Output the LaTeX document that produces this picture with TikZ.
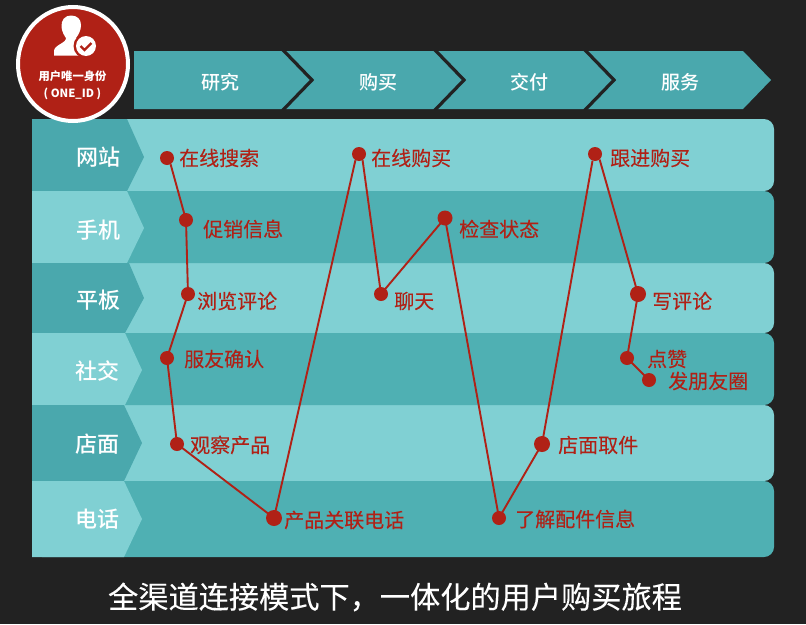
\documentclass[tikz,border=0pt]{standalone}
\usepackage{fontspec}
\usetikzlibrary{shapes.geometric}
\setmainfont{Noto Sans CJK SC}
\newfontfamily\medf[FakeBold=0.15]{Noto Sans CJK SC}
\newfontfamily\heavyf{Noto Sans CJK SC Medium}
\definecolor{bgd}{HTML}{222222}
\definecolor{dk}{HTML}{4AA8AD}
\definecolor{dkb}{HTML}{4FB0B3}
\definecolor{lt}{HTML}{80D0D3}
\definecolor{rd}{HTML}{B02116}
\tikzset{
 dot/.style={circle,fill=rd,inner sep=0pt,minimum size=14pt},
 lab/.style={text=rd,font=\medf\fontsize{20}{20}\selectfont,anchor=west,inner sep=0pt},
 tabt/.style={text=white,font=\heavyf\fontsize{22}{22}\selectfont,inner sep=0pt},
 hdr/.style={text=white,font=\heavyf\fontsize{19}{19}\selectfont,inner sep=0pt},
 badget/.style={text=white,font=\bfseries\fontsize{11.3}{11.3}\selectfont,inner sep=0pt},
 link/.style={draw=rd,line width=1.9pt},
 sep/.style={draw=bgd,line width=3.2pt,miter limit=10},
 rowshape/.style={rounded corners=10pt}
}
\begin{document}
\begin{tikzpicture}[x=1pt,y=-1pt]
\useasboundingbox (0,0) rectangle (806,624);
\fill[bgd] (0,0) rectangle (806,624);
% header band
\fill[dk] (134,51) -- (743,51) -- (771,80) -- (743,109) -- (134,109) -- cycle;
\begin{scope}
\clip (134,51) rectangle (771,109);
\draw[sep] (282.5,49.5) -- (312,80) -- (282.5,110.5);
\draw[sep] (434.5,49.5) -- (464,80) -- (434.5,110.5);
\draw[sep] (584.5,49.5) -- (614,80) -- (584.5,110.5);
\end{scope}
\node[hdr] (h1) at (220,82) {研究};
\node[hdr] (h2) at (378,82) {购买};
\node[hdr] (h3) at (529,82) {交付};
\node[hdr] (h4) at (680,82) {服务};
% rows
\fill[lt,rowshape] (32,119) rectangle (774,191);
\fill[lt,rowshape] (32,263) rectangle (774,333);
\fill[lt,rowshape] (32,405) rectangle (774,481);
\fill[dkb,rowshape] (32,191) rectangle (774,263);
\fill[dkb,rowshape] (32,333) rectangle (774,405);
\fill[dkb,rowshape] (32,481) rectangle (774,557);
% tabs
\fill[dk] (32,119) -- (127,119) -- (144,157) -- (127,191) -- (32,191) -- cycle;
\fill[lt] (32,191) -- (127,191) -- (144,228) -- (127,263) -- (32,263) -- cycle;
\fill[dk] (32,263) -- (129,263) -- (144,298) -- (125,333) -- (32,333) -- cycle;
\fill[lt] (32,333) -- (125,333) -- (142,370) -- (125,405) -- (32,405) -- cycle;
\fill[dk] (32,405) -- (124,405) -- (142,443) -- (124,481) -- (32,481) -- cycle;
\fill[lt] (32,481) -- (124,481) -- (142,519) -- (124,557) -- (32,557) -- cycle;
\node[tabt] (t1) at (98,157) {网站};
\node[tabt] (t2) at (98,230) {手机};
\node[tabt] (t3) at (98,300) {平板};
\node[tabt] (t4) at (97,371) {社交};
\node[tabt] (t5) at (97,444) {店面};
\node[tabt] (t6) at (97,519) {电话};
% dots
\node[dot] (a1) at (167,158) {};
\node[dot] (a2) at (186,220) {};
\node[dot] (a3) at (188,294) {};
\node[dot] (a4) at (167,358) {};
\node[dot] (a5) at (177,444) {};
\node[dot,minimum size=16pt] (a6) at (274,518) {};
\node[dot] (a7) at (359,154) {};
\node[dot] (a8) at (381,294) {};
\node[dot,minimum size=15pt] (a9) at (445,218) {};
\node[dot] (a10) at (499,518) {};
\node[dot,minimum size=16pt] (a11) at (542,444) {};
\node[dot] (a12) at (595,154) {};
\node[dot,minimum size=16pt] (a13) at (638,294) {};
\node[dot] (a14) at (627,358) {};
\node[dot] (a15) at (649,380) {};
\draw[link] (a1.-60) -- (a2.center);
\draw[link] (a2.center) -- (a3.center);
\draw[link] (a3.center) -- (a4.center);
\draw[link] (a4.center) -- (a5.center);
\draw[link] (a5.center) -- (a6.center);
\draw[link] (a6.center) -- (a7.-120);
\draw[link] (a7.-60) -- (a8.center);
\draw[link] (a8.center) -- (a9.center);
\draw[link] (a9.center) -- (a10.center);
\draw[link] (a10.center) -- (a11.center);
\draw[link] (a11.center) -- (a12.-110);
\draw[link] (a12.-50) -- (a13.center);
\draw[link] (a13.center) -- (a14.center);
\draw[link] (a14.center) -- (a15.center);
% labels
\node[lab] (l1) at (179,158) {在线搜索};
\node[lab] (l2) at (203,229) {促销信息};
\node[lab] (l3) at (197,301) {浏览评论};
\node[lab] (l4) at (184,359) {服友确认};
\node[lab] (l5) at (190,445) {观察产品};
\node[lab] (l6) at (284,520) {产品关联电话};
\node[lab] (l7) at (371,158) {在线购买};
\node[lab] (l8) at (394,301) {聊天};
\node[lab] (l9) at (459,229) {检查状态};
\node[lab] (l10) at (515,519) {了解配件信息};
\node[lab] (l11) at (558,445) {店面取件};
\node[lab] (l12) at (610,158) {跟进购买};
\node[lab] (l13) at (652,301) {写评论};
\node[lab] (l14) at (647,359) {点赞};
\node[lab] (l15) at (668,381) {发朋友圈};
% badge
\node[ellipse,fill=rd,draw=white,line width=4pt,inner sep=0pt,minimum width=110pt,minimum height=114pt] (badge) at (73,64) {};
\fill[white] (71,15.5) .. controls (65,15.5) and (61,20) .. (61.5,27) .. controls (62,32) and (64.5,36) .. (66,38) .. controls (66.5,43) and (54,45) .. (54,51) -- (54,55.5) -- (84,55.5) -- (84,40) -- (76,38) .. controls (79,34) and (81,30) .. (81,25) .. controls (81,19) and (77,15.5) .. (71,15.5) -- cycle;
\fill[rd] (86,46) circle[radius=12.5];
\fill[white] (86,46) circle[radius=10];
\draw[rd,line width=2.4pt] (80.5,46) -- (84.5,50) -- (91.5,43);
\node[badget] (b1) at (72.5,76) {用户唯一身份};
\node[badget] (b2) at (72.5,94) {( ONE\_ID )};
% title
\node[text=white,font=\medf\fontsize{30.2}{30.2}\selectfont,inner sep=0pt] (title) at (395,597) {全渠道连接模式下，一体化的用户购买旅程};
\end{tikzpicture}
\end{document}
